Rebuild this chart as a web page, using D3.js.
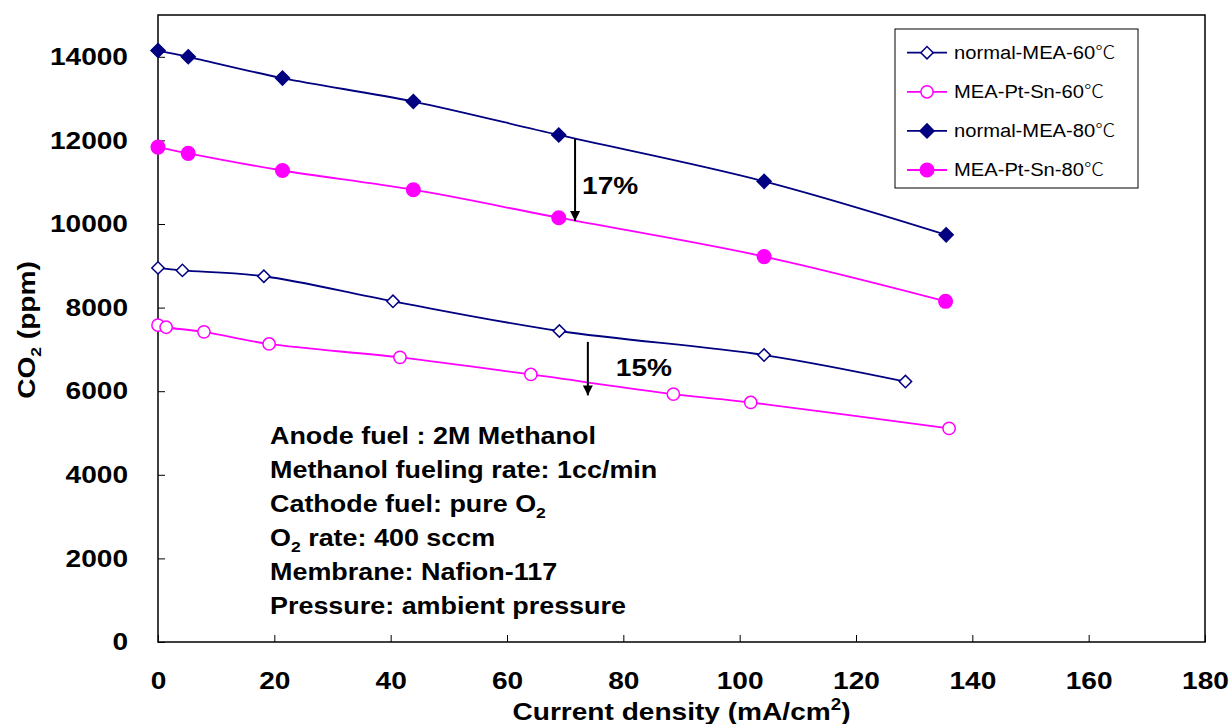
<!DOCTYPE html>
<html>
  <head>
    <title>CO2 vs current density</title>
    <script src="https://d3js.org/d3.v7.min.js"></script>
    <style>
      body { margin: 0; background: #fff; }
      svg text { font-family: "Liberation Sans", Arial, sans-serif; }
    </style>
  </head>
  <body>
    <script>
      // data
      const xNormal80 = [0, 5.2, 21.4, 43.9, 68.9, 104.2, 135.5];
      const yNormal80 = [14150, 14000, 13490, 12930, 12130, 11020, 9740];
      const xPtSn80 = [0, 5.2, 21.4, 43.9, 68.9, 104.2, 135.4];
      const yPtSn80 = [11840, 11690, 11280, 10820, 10150, 9220, 8150];
      const xNormal60 = [0, 4.2, 18.2, 40.4, 69.0, 104.2, 128.5];
      const yNormal60 = [8950, 8890, 8750, 8150, 7440, 6865, 6230];
      const xPtSn60 = [0, 1.4, 7.9, 19.1, 41.6, 64.1, 88.6, 101.9, 136.0];
      const yPtSn60 = [7580, 7530, 7420, 7130, 6810, 6400, 5930, 5730, 5110];

      const seriesNames = ['normal-MEA-60', 'MEA-Pt-Sn-60', 'normal-MEA-80', 'MEA-Pt-Sn-80'];
      const unit = '℃';
      const xTicks = [0, 20, 40, 60, 80, 100, 120, 140, 160, 180];
      const yTicks = [0, 2000, 4000, 6000, 8000, 10000, 12000, 14000];

      // reduction arrows: [x, yFrom, yTo, label, labelX, labelY]
      const arrows = [
        [71.7, 12040, 10070, '17%', 72.9, 10920],
        [73.9, 7180, 5900, '15%', 78.7, 6570]
      ];

      const notes = [
        [['Anode fuel : 2M Methanol']],
        [['Methanol fueling rate: 1cc/min']],
        [['Cathode fuel: pure O'], ['2', 'sub']],
        [['O'], ['2', 'sub'], [' rate: 400 sccm']],
        [['Membrane: Nafion-117']],
        [['Pressure: ambient pressure']]
      ];

      const w = 1231, h = 724;
      const margin = {top: 15, right: 26, bottom: 82, left: 158};
      const widen = 1.17; // text in the original is drawn a bit wide

      const series = [
        {name: seriesNames[0], xs: xNormal60, ys: yNormal60, color: '#000080', shape: 'diamond', filled: false},
        {name: seriesNames[1], xs: xPtSn60, ys: yPtSn60, color: '#ff00ff', shape: 'circle', filled: false},
        {name: seriesNames[2], xs: xNormal80, ys: yNormal80, color: '#000080', shape: 'diamond', filled: true},
        {name: seriesNames[3], xs: xPtSn80, ys: yPtSn80, color: '#ff00ff', shape: 'circle', filled: true}
      ];

      const xScale = d3.scaleLinear().domain([0, 180]).range([margin.left, w - margin.right]);
      const yScale = d3.scaleLinear().domain([0, 15000]).range([h - margin.bottom, margin.top]);

      const svg = d3.select('body').append('svg')
                    .attr('width', w)
                    .attr('height', h);

      const stretch = (sel, k = widen) => sel.each(function() {
        const len = this.getComputedTextLength();
        d3.select(this).attr('textLength', len * k).attr('lengthAdjust', 'spacingAndGlyphs');
      });

      svg.append('defs').append('marker')
         .attr('id', 'arrowhead')
         .attr('viewBox', '0 0 10 10')
         .attr('refX', 10).attr('refY', 5)
         .attr('markerWidth', 5).attr('markerHeight', 6)
         .attr('orient', 'auto')
         .append('path')
         .attr('d', 'M0,0 L10,5 L0,10 Z')
         .attr('fill', '#000');

      // axes
      const xAxis = d3.axisBottom(xScale).tickValues(xTicks).tickSizeInner(-7).tickSizeOuter(0).tickPadding(30);
      const yAxis = d3.axisLeft(yScale).tickValues(yTicks).tickFormat(d3.format('d'))
                      .tickSizeInner(-7).tickSizeOuter(0).tickPadding(30);

      const gx = svg.append('g')
                    .attr('transform', `translate(0, ${h - margin.bottom})`)
                    .call(xAxis);
      const gy = svg.append('g')
                    .attr('transform', `translate(${margin.left}, 0)`)
                    .call(yAxis);
      [gx, gy].forEach(g => {
        g.select('.domain').remove();
        g.selectAll('.tick line').attr('stroke', '#000').attr('stroke-width', 1);
        g.selectAll('.tick text')
         .attr('fill', '#000')
         .style('font-size', '24px')
         .style('font-weight', 'bold')
         .call(stretch);
      });

      // plot frame
      svg.append('rect')
         .attr('x', margin.left).attr('y', margin.top)
         .attr('width', w - margin.left - margin.right)
         .attr('height', h - margin.top - margin.bottom)
         .attr('fill', 'none')
         .attr('stroke', '#000')
         .attr('stroke-width', 1.5);

      // axis titles
      const xt = svg.append('text')
                    .attr('x', (margin.left + w - margin.right) / 2)
                    .attr('y', 720)
                    .attr('text-anchor', 'middle')
                    .style('font-size', '24px')
                    .style('font-weight', 'bold');
      xt.append('tspan').text('Current density (mA/cm');
      xt.append('tspan').attr('dy', -10).style('font-size', '16px').text('2');
      xt.append('tspan').attr('dy', 10).text(')');
      xt.call(stretch);

      const yt = svg.append('text')
                    .attr('transform', 'translate(35, 330) rotate(-90)')
                    .attr('text-anchor', 'middle')
                    .style('font-size', '24px')
                    .style('font-weight', 'bold');
      yt.append('tspan').text('CO');
      yt.append('tspan').attr('dy', 6).style('font-size', '15px').text('2');
      yt.append('tspan').attr('dy', -6).text(' (ppm)');
      yt.call(stretch);

      // lines
      const line = d3.line()
                     .x(d => xScale(d[0]))
                     .y(d => yScale(d[1]))
                     .curve(d3.curveCatmullRom.alpha(0.5));

      const symbolPath = (shape, filled) => shape === 'diamond'
        ? d3.symbol().type(d3.symbolSquare).size(filled ? 98 : 76)()
        : d3.symbol().type(d3.symbolCircle).size(filled ? 145 : 118)();

      series.forEach(s => {
        const pts = s.xs.map((x, i) => [x, s.ys[i]]);
        svg.append('path')
           .datum(pts)
           .attr('fill', 'none')
           .attr('stroke', s.color)
           .attr('stroke-width', 1.8)
           .attr('d', line);
        svg.append('g').selectAll('path')
           .data(pts)
           .enter()
           .append('path')
           .attr('d', symbolPath(s.shape, s.filled))
           .attr('transform', d => `translate(${xScale(d[0])}, ${yScale(d[1])})` + (s.shape === 'diamond' ? ' rotate(45)' : ''))
           .attr('fill', s.filled ? s.color : '#fff')
           .attr('stroke', s.color)
           .attr('stroke-width', 1.5);
      });

      // arrows and percentages
      arrows.forEach(a => {
        svg.append('line')
           .attr('x1', xScale(a[0])).attr('x2', xScale(a[0]))
           .attr('y1', yScale(a[1])).attr('y2', yScale(a[2]))
           .attr('stroke', '#000')
           .attr('stroke-width', 2)
           .attr('marker-end', 'url(#arrowhead)');
        svg.append('text')
           .attr('x', xScale(a[4]))
           .attr('y', yScale(a[5]))
           .attr('dy', '0.36em')
           .style('font-size', '24px')
           .style('font-weight', 'bold')
           .text(a[3])
           .call(stretch);
      });

      // experimental conditions
      const nt = svg.append('g').attr('transform', 'translate(270, 0)');
      notes.forEach((parts, i) => {
        const t = nt.append('text')
                    .attr('x', 0)
                    .attr('y', 444 + i * 34)
                    .style('font-size', '23px')
                    .style('font-weight', 'bold');
        parts.forEach(p => {
          if (p[1] === 'sub') {
            t.append('tspan').attr('dy', 6).style('font-size', '15px').text(p[0]);
          } else {
            const sp = t.append('tspan').text(p[0]);
            if (t.selectAll('tspan').size() > 1) sp.attr('dy', -6);
          }
        });
        t.call(stretch);
      });

      // legend
      const lg = svg.append('g');
      lg.append('rect')
        .attr('x', 895).attr('y', 29)
        .attr('width', 243).attr('height', 159)
        .attr('fill', '#fff')
        .attr('stroke', '#000')
        .attr('stroke-width', 1);
      series.forEach((s, i) => {
        const yy = 52.7 + i * 39.1;
        lg.append('line')
          .attr('x1', 907).attr('x2', 947)
          .attr('y1', yy).attr('y2', yy)
          .attr('stroke', s.color)
          .attr('stroke-width', 1.8);
        lg.append('path')
          .attr('d', symbolPath(s.shape, s.filled))
          .attr('transform', `translate(927, ${yy})` + (s.shape === 'diamond' ? ' rotate(45)' : ''))
          .attr('fill', s.filled ? s.color : '#fff')
          .attr('stroke', s.color)
          .attr('stroke-width', 1.5);
        const lt = lg.append('text')
          .attr('x', 954).attr('y', yy)
          .attr('dy', '0.36em')
          .style('font-size', '18px');
        lt.append('tspan').text(s.name);
        lt.append('tspan')
          .style('font-family', '"Noto Sans CJK SC", sans-serif')
          .style('font-weight', 300)
          .text(unit);
        lt.call(stretch, 1.12);
      });
    </script>
  </body>
</html>
